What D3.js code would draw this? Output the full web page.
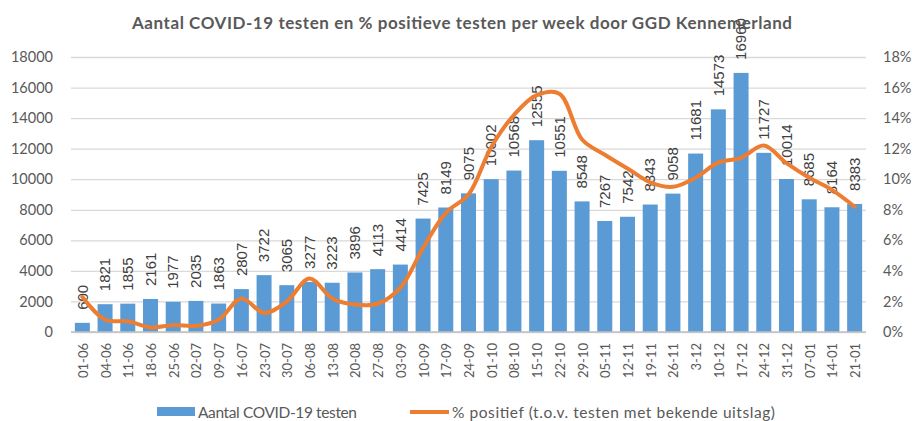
<!DOCTYPE html>
<html>
<head>
<meta charset="utf-8">
<script src="https://cdn.jsdelivr.net/npm/d3@7"></script>
<style>
  body { margin: 0; background: #fff; }
  svg { display: block; }
</style>
</head>
<body>
<div id="chart"></div>
<script>
const weeks = ["01-06","04-06","11-06","18-06","25-06","02-07","09-07","16-07","23-07","30-07",
  "06-08","13-08","20-08","27-08","03-09","10-09","17-09","24-09","01-10","08-10",
  "15-10","22-10","29-10","05-11","12-11","19-11","26-11","3-12","10-12","17-12",
  "24-12","31-12","07-01","14-01","21-01"];
const tests = [600,1821,1855,2161,1977,2035,1863,2807,3722,3065,
  3277,3223,3896,4113,4414,7425,8149,9075,10002,10568,
  12555,10551,8548,7267,7542,8343,9058,11681,14573,16960,
  11727,10014,8685,8164,8383];
// % positief
const positive = [2.3,0.8,0.7,0.3,0.45,0.4,0.8,2.2,1.25,2.0,
  3.5,2.2,1.8,1.85,2.9,5.5,7.8,9.0,12.1,14.2,
  15.5,15.6,12.6,11.6,10.7,9.8,9.5,10.1,11.1,11.4,
  12.2,11.05,10.1,9.3,8.2];
const leftTicks = [0,2000,4000,6000,8000,10000,12000,14000,16000,18000];
const rightTicks = [0,2,4,6,8,10,12,14,16,18];

const width = 913, height = 421;
const plot = { left: 71, right: 866, top: 57, bottom: 332 };

const svg = d3.select("#chart").append("svg")
  .attr("width", width).attr("height", height)
  .style("font-family", "Lato, 'Open Sans', sans-serif");

const x = d3.scaleBand().domain(weeks)
  .range([plot.left, plot.right])
  .paddingInner(0.34).paddingOuter(0.17);
const y = d3.scaleLinear().domain([0, 18000]).range([plot.bottom, plot.top]);
const y2 = d3.scaleLinear().domain([0, 18]).range([plot.bottom, plot.top]);

// left axis + gridlines
const gL = svg.append("g")
  .attr("transform", `translate(${plot.left},0)`)
  .call(d3.axisLeft(y).tickValues(leftTicks).tickFormat(d3.format("d"))
    .tickSize(-(plot.right - plot.left)).tickPadding(18));
gL.select(".domain").remove();
gL.selectAll("line").attr("stroke", "#d9d9d9").attr("stroke-width", 1.3);
gL.selectAll("text").attr("font-size", 14.5).attr("fill", "#595959")
  .attr("font-family", "Lato, sans-serif");

// right axis
const gR = svg.append("g")
  .attr("transform", `translate(${plot.right},0)`)
  .call(d3.axisRight(y2).tickValues(rightTicks).tickFormat(d => d + "%")
    .tickSize(0).tickPadding(17));
gR.select(".domain").remove();
gR.selectAll("text").attr("font-size", 14.5).attr("fill", "#595959")
  .attr("font-family", "Lato, sans-serif");

// bars
svg.append("g").selectAll("rect")
  .data(tests)
  .join("rect")
  .attr("x", (d, i) => x(weeks[i]))
  .attr("width", x.bandwidth())
  .attr("y", d => y(d))
  .attr("height", d => y(0) - y(d))
  .attr("fill", "#5b9bd5");

// bottom axis line
svg.append("line")
  .attr("x1", plot.left).attr("x2", plot.right)
  .attr("y1", plot.bottom).attr("y2", plot.bottom)
  .attr("stroke", "#bfbfbf").attr("stroke-width", 1.3);

// x labels
const gX = svg.append("g")
  .attr("transform", `translate(0,${plot.bottom})`)
  .call(d3.axisBottom(x).tickSize(0).tickPadding(0));
gX.select(".domain").remove();
gX.selectAll("text")
  .attr("transform", "rotate(-90)")
  .attr("text-anchor", "end")
  .attr("x", -11).attr("y", 1).attr("dy", "0.35em")
  .attr("font-size", 13).attr("fill", "#595959")
  .attr("font-family", "Lato, sans-serif");

// bar value labels
svg.append("g").selectAll("text")
  .data(tests)
  .join("text")
  .attr("transform", (d, i) =>
    `translate(${x(weeks[i]) + x.bandwidth() / 2},${y(d) - 13}) rotate(-90)`)
  .attr("dy", "0.35em")
  .attr("text-anchor", "start")
  .attr("font-size", 15)
  .attr("font-family", "'Liberation Sans', Arial, sans-serif")
  .attr("fill", "#404040")
  .text(d => d);

// percentage line
svg.append("path")
  .datum(positive)
  .attr("fill", "none")
  .attr("stroke", "#ed7d31")
  .attr("stroke-width", 4)
  .attr("stroke-linejoin", "round")
  .attr("stroke-linecap", "round")
  .attr("d", d3.line()
    .x((d, i) => x(weeks[i]) + x.bandwidth() / 2)
    .y(d => y2(d))
    .curve(d3.curveCatmullRom.alpha(0.5)));

// title
svg.append("text")
  .attr("x", 132).attr("y", 29)
  .attr("textLength", 660).attr("lengthAdjust", "spacing")
  .attr("font-size", 17).attr("font-weight", "bold")
  .attr("fill", "#595959")
  .text("Aantal COVID-19 testen en % positieve testen per week door GGD Kennemerland");

// legend
const lg = svg.append("g").attr("font-size", 15.5).attr("fill", "#595959");
lg.append("rect").attr("x", 157).attr("y", 407).attr("width", 38).attr("height", 9)
  .attr("fill", "#5b9bd5");
lg.append("text").attr("x", 198).attr("y", 417.5)
  .attr("textLength", 159).attr("lengthAdjust", "spacing")
  .text("Aantal COVID-19 testen");
lg.append("line").attr("x1", 410).attr("x2", 449).attr("y1", 412).attr("y2", 412)
  .attr("stroke", "#ed7d31").attr("stroke-width", 4);
lg.append("text").attr("x", 452).attr("y", 417.5)
  .attr("textLength", 323).attr("lengthAdjust", "spacing")
  .text("% positief (t.o.v. testen met bekende uitslag)");
</script>
</body>
</html>
